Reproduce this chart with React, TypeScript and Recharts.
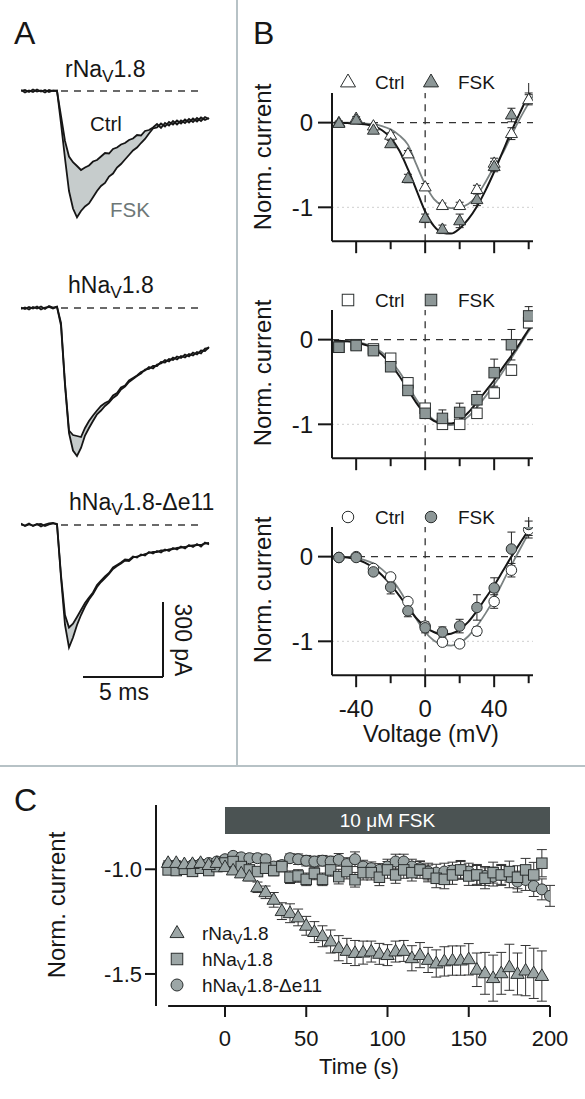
import React from 'react';
import {
  ComposedChart, Line, Area, Scatter, ErrorBar, XAxis, YAxis, ReferenceLine, ReferenceArea,
} from 'recharts';

const FONT = '"Liberation Sans", Arial, Helvetica, sans-serif';
const INK = '#161616';
const GRAY_FILL_B = '#8d9797';
const GRAY_FILL_C = '#9ca6a6';
const DIVIDER = '#b7c2c6';

// ---- panel A: example current traces (pA vs ms) ----
const traceTime = [0, 0.25, 0.5, 0.75, 1, 1.25, 1.5, 1.75, 2, 2.25, 2.5, 2.75, 3, 3.25, 3.5, 3.75, 4, 4.25, 4.5, 4.75, 5, 5.25, 5.5, 5.75, 6, 6.25, 6.5, 6.75, 7, 7.25, 7.5, 7.75, 8, 8.25, 8.5, 8.75, 9, 9.25, 9.5, 9.75, 10, 10.25, 10.5, 10.75, 11, 11.25, 11.5, 11.75];

const rTraceCtrl = [4, -6, 2, -4, 6, -2, 4, -4, 2, 0,
  -100, -200, -262, -285, -300, -316, -306, -298, -282, -276, -262, -248, -250, -232, -226, -214, -208, -196, -190, -176,
  -178, -160, -156, -146, -132, -148, -128, -138, -120, -134, -118, -128, -112, -124, -108, -120, -104, -112];
const rTraceFsk = [0, 4, -4, 6, -2, 2, -6, 4, 0, 2,
  -130, -270, -400, -470, -505, -480, -462, -450, -425, -400, -380, -368, -342, -330, -306, -292, -274, -256, -238, -226,
  -208, -192, -170, -150, -146, -130, -142, -124, -134, -118, -130, -114, -126, -110, -122, -106, -116, -108];

const hTraceCtrl = [-4, 2, -6, 4, -2, 6, -4, 8, 2, 6,
  -60, -300, -490, -508, -512, -516, -480, -452, -430, -410, -392, -380, -372, -350, -340, -318, -310, -290, -280, -270,
  -256, -250, -236, -242, -226, -222, -208, -214, -198, -206, -192, -198, -184, -190, -176, -182, -162, -160];
const hTraceFsk = [2, -4, 4, -2, 6, -6, 2, 4, -2, 4,
  -70, -310, -500, -570, -592, -560, -510, -480, -452, -425, -410, -392, -378, -360, -348, -326, -314, -296, -284, -272,
  -262, -246, -244, -232, -232, -216, -218, -204, -208, -194, -200, -186, -194, -178, -186, -170, -172, -156];

const dTraceCtrl = [6, -4, 2, -2, 4, -6, 2, 6, 8, 4,
  -200, -360, -410, -395, -368, -340, -312, -290, -270, -240, -222, -206, -192, -170, -160, -150, -138, -140, -126, -130,
  -118, -122, -108, -114, -104, -110, -98, -104, -92, -98, -86, -94, -80, -88, -76, -86, -70, -78];
const dTraceFsk = [2, -2, 6, -4, 2, 4, -4, 2, 6, 2,
  -210, -400, -490, -450, -400, -360, -326, -298, -276, -248, -228, -212, -196, -176, -164, -154, -142, -144, -130, -126,
  -122, -116, -112, -108, -108, -102, -102, -98, -96, -92, -90, -88, -84, -82, -80, -80, -74, -72];

const scaleBarMs = 5;
const scaleBarPa = 300;

// ---- panel B: I-V curves ----
const volt = [-50, -40, -30, -20, -10, 0, 10, 20, 30, 40, 50, 60];
const voltTicks = [-40, -20, 0, 20, 40, 60];
const fitVolt = [-53, -45, -40, -35, -30, -25, -20, -15, -10, -5, 0, 5, 10, 15, 20, 25, 30, 35, 40, 45, 50, 55, 60, 63];

const rIvCtrl = [0, 0.05, -0.04, -0.15, -0.37, -0.76, -0.98, -0.98, -0.79, -0.48, -0.13, 0.27];
const rIvCtrlErr = [0.02, 0.02, 0.02, 0.03, 0.04, 0.04, 0.03, 0.04, 0.05, 0.06, 0.07, 0.06];
const rIvFsk = [-0.01, 0.03, -0.09, -0.25, -0.66, -1.13, -1.26, -1.16, -0.91, -0.52, 0.09, 0.43];
const rIvFskErr = [0.02, 0.02, 0.03, 0.04, 0.05, 0.05, 0.05, 0.08, 0.07, 0.06, 0.08, 0.08];
const rFitCtrl = [0, 0, -0.003, -0.01, -0.02, -0.04, -0.08, -0.15, -0.26, -0.5, -0.73, -0.9, -0.98, -1.01, -1.0, -0.96, -0.86, -0.7, -0.52, -0.36, -0.15, 0.05, 0.23, 0.33];
const rFitFsk = [0, -0.005, -0.01, -0.02, -0.04, -0.09, -0.18, -0.33, -0.55, -0.8, -1.05, -1.22, -1.3, -1.31, -1.25, -1.14, -0.99, -0.8, -0.58, -0.34, -0.1, 0.12, 0.33, 0.43];

const hIvCtrl = [-0.09, -0.06, -0.11, -0.22, -0.51, -0.81, -1.0, -1.0, -0.87, -0.63, -0.36, 0.2];
const hIvCtrlErr = [0.02, 0.02, 0.03, 0.03, 0.04, 0.04, 0.04, 0.04, 0.05, 0.06, 0.06, 0.06];
const hIvFsk = [-0.09, -0.07, -0.13, -0.32, -0.6, -0.87, -0.93, -0.86, -0.71, -0.39, -0.06, 0.28];
const hIvFskErr = [0.02, 0.02, 0.03, 0.04, 0.05, 0.06, 0.1, 0.11, 0.1, 0.16, 0.18, 0.11];
const hFitCtrl = [-0.01, -0.02, -0.03, -0.05, -0.09, -0.15, -0.25, -0.38, -0.54, -0.71, -0.85, -0.95, -1.0, -1.01, -0.98, -0.91, -0.8, -0.67, -0.53, -0.38, -0.22, -0.06, 0.1, 0.18];
const hFitFsk = [-0.01, -0.02, -0.03, -0.06, -0.1, -0.18, -0.29, -0.43, -0.59, -0.75, -0.88, -0.96, -0.99, -0.99, -0.95, -0.86, -0.74, -0.61, -0.48, -0.33, -0.19, -0.04, 0.12, 0.2];

const dIvCtrl = [-0.01, 0, -0.14, -0.24, -0.53, -0.82, -1.01, -1.03, -0.88, -0.53, -0.16, 0.32];
const dIvCtrlErr = [0.02, 0.02, 0.03, 0.04, 0.04, 0.05, 0.04, 0.04, 0.05, 0.08, 0.08, 0.1];
const dIvFsk = [-0.01, -0.01, -0.18, -0.36, -0.64, -0.84, -0.89, -0.82, -0.6, -0.37, 0.09, 0.38];
const dIvFskErr = [0.03, 0.02, 0.04, 0.08, 0.07, 0.06, 0.06, 0.08, 0.15, 0.12, 0.2, 0.13];
const dFitCtrl = [0, -0.005, -0.015, -0.04, -0.08, -0.15, -0.25, -0.39, -0.56, -0.74, -0.89, -0.99, -1.04, -1.05, -1.02, -0.94, -0.82, -0.67, -0.5, -0.3, -0.1, 0.09, 0.27, 0.35];
const dFitFsk = [0, -0.01, -0.03, -0.07, -0.13, -0.22, -0.33, -0.46, -0.6, -0.73, -0.83, -0.89, -0.92, -0.91, -0.86, -0.77, -0.64, -0.49, -0.34, -0.17, 0, 0.16, 0.31, 0.38];

// ---- panel C: time course ----
const timeC = [-35, -30, -25, -20, -15, -10, -5, 0, 5, 10, 15, 20, 25, 30, 35, 40, 45, 50, 55, 60, 65, 70, 75, 80, 85, 90, 95, 100, 105, 110, 115, 120, 125, 130, 135, 140, 145, 150, 155, 160, 165, 170, 175, 180, 185, 190, 195];
const timeCd = [-35, -30, -25, -20, -15, -10, -5, 0, 5, 10, 15, 20, 25, 30, 35, 40, 45, 50, 55, 60, 65, 70, 75, 80, 85, 90, 95, 100, 105, 110, 115, 120, 125, 130, 135, 140, 145, 150, 155, 160, 165, 170, 175, 180, 185, 190, 195, 200];
const timeTicks = [0, 50, 100, 150, 200];

const rCourse = [-0.97, -0.97, -0.976, -0.975, -0.97, -0.98, -0.97, -0.99, -1.006, -1.02, -1.035, -1.086, -1.11, -1.146, -1.2, -1.21, -1.23, -1.27, -1.3, -1.32, -1.345, -1.377, -1.39, -1.4, -1.398, -1.393, -1.404, -1.41, -1.393, -1.39, -1.425, -1.41, -1.433, -1.45, -1.44, -1.436, -1.436, -1.43, -1.48, -1.497, -1.52, -1.497, -1.468, -1.5, -1.484, -1.497, -1.51];
const rCourseErr = [0.01, 0.01, 0.01, 0.01, 0.01, 0.01, 0.01, 0.01, 0.01, 0.015, 0.02, 0.025, 0.03, 0.035, 0.04, 0.045, 0.04, 0.045, 0.05, 0.05, 0.055, 0.06, 0.06, 0.06, 0.055, 0.05, 0.05, 0.05, 0.05, 0.05, 0.06, 0.06, 0.06, 0.065, 0.07, 0.07, 0.07, 0.075, 0.08, 0.1, 0.11, 0.1, 0.11, 0.1, 0.12, 0.12, 0.12];
const hCourse = [-1.003, -1.006, -1.0, -1.01, -0.995, -1.006, -0.987, -0.97, -0.963, -0.987, -1.003, -1.011, -0.995, -1.006, -0.987, -1.038, -1.032, -1.048, -1.02, -1.048, -1.003, -1.035, -1.011, -1.05, -1.016, -1.016, -1.038, -1.003, -1.027, -1.003, -1.016, -1.003, -1.02, -1.043, -1.048, -1.027, -1.003, -1.032, -1.027, -1.043, -1.016, -1.027, -1.011, -1.038, -1.003, -1.027, -0.971];
const hCourseErr = [0.01, 0.01, 0.01, 0.01, 0.01, 0.01, 0.01, 0.015, 0.015, 0.02, 0.02, 0.02, 0.02, 0.025, 0.025, 0.03, 0.03, 0.03, 0.03, 0.03, 0.03, 0.035, 0.035, 0.035, 0.035, 0.035, 0.04, 0.04, 0.04, 0.04, 0.04, 0.04, 0.04, 0.045, 0.045, 0.045, 0.045, 0.045, 0.05, 0.05, 0.05, 0.05, 0.05, 0.055, 0.055, 0.06, 0.065];
const dCourse = [-0.98, -0.98, -0.987, -0.98, -0.975, -0.97, -0.963, -0.952, -0.936, -0.943, -0.947, -0.947, -0.952, -0.987, -0.98, -0.947, -0.952, -0.959, -0.963, -0.959, -0.963, -0.955, -0.975, -0.952, -0.987, -0.995, -1.003, -0.987, -0.963, -0.963, -0.987, -0.995, -1.011, -1.016, -1.011, -1.006, -1.003, -1.011, -1.027, -1.032, -1.035, -1.027, -1.038, -1.059, -1.051, -1.08, -1.096, -1.127];
const dCourseErr = [0.01, 0.01, 0.01, 0.01, 0.01, 0.01, 0.01, 0.015, 0.015, 0.015, 0.02, 0.02, 0.02, 0.02, 0.02, 0.02, 0.025, 0.025, 0.025, 0.025, 0.025, 0.03, 0.03, 0.035, 0.03, 0.03, 0.03, 0.035, 0.035, 0.035, 0.035, 0.035, 0.04, 0.04, 0.04, 0.04, 0.04, 0.04, 0.045, 0.045, 0.045, 0.045, 0.05, 0.05, 0.05, 0.05, 0.05, 0.05];

type Kind = 'triangle' | 'square' | 'circle';

function Marker({ cx, cy, kind, fill, size }: { cx?: number; cy?: number; kind: Kind; fill: string; size: number }) {
  if (cx == null || cy == null) return null;
  const s = size;
  if (kind === 'triangle') {
    const h = s * 0.86;
    const pts = `${cx},${cy - h * 0.62} ${cx - s / 2},${cy + h * 0.38} ${cx + s / 2},${cy + h * 0.38}`;
    return <polygon points={pts} fill={fill} stroke="#2b2f2f" strokeWidth={1} />;
  }
  if (kind === 'square') {
    return <rect x={cx - s / 2} y={cy - s / 2} width={s} height={s} fill={fill} stroke="#2b2f2f" strokeWidth={1} />;
  }
  return <circle cx={cx} cy={cy} r={s / 2} fill={fill} stroke="#2b2f2f" strokeWidth={1} />;
}

function LegendMark({ x, y, kind, fill, size }: { x: number; y: number; kind: Kind; fill: string; size: number }) {
  return (
    <svg width={24} height={24} style={{ position: 'absolute', left: x - 12, top: y - 12 }}>
      <Marker cx={12} cy={12} kind={kind} fill={fill} size={size} />
    </svg>
  );
}

const Sub = ({ t }: { t: string }) => (
  <span style={{ fontSize: '0.75em', position: 'relative', top: '0.3em' }}>{t}</span>
);

function Txt({ x, y, size, color = INK, center = false, rotate = 0, children }: any) {
  const tx = center || rotate ? '-50%' : '0';
  return (
    <div style={{
      position: 'absolute', left: x, top: y, fontSize: size, color, lineHeight: 1, whiteSpace: 'nowrap',
      transform: `translate(${tx}, -50%)${rotate ? ` rotate(${rotate}deg)` : ''}`,
    }}>{children}</div>
  );
}

function TraceChart({ top, ctrl, fsk, children }: { top: number; ctrl: number[]; fsk: number[]; children?: React.ReactNode }) {
  const rows = traceTime.map((t, k) => ({ t, ctrl: ctrl[k], fsk: fsk[k] }));
  return (
    <div style={{ position: 'absolute', left: 21, top }}>
      <ComposedChart width={192} height={190} data={rows} margin={{ top: 0, right: 0, bottom: 0, left: 0 }}>
        <XAxis type="number" dataKey="t" domain={[0, 12]} hide allowDataOverflow />
        <YAxis type="number" domain={[-716, 44]} hide allowDataOverflow />
        <Area dataKey={(r: any) => [r.fsk, r.ctrl]} type="linear" fill="#c6cccc" fillOpacity={1} stroke="none" isAnimationActive={false} />
        <ReferenceLine segment={[{ x: 2.5, y: 0 }, { x: 11.4, y: 0 }]} stroke="#3a3a3a" strokeDasharray="7 6" strokeWidth={1.3} />
        <Line dataKey="fsk" type="linear" stroke={INK} strokeWidth={1.8} dot={false} isAnimationActive={false} />
        <Line dataKey="ctrl" type="linear" stroke={INK} strokeWidth={1.8} dot={false} isAnimationActive={false} />
        {children}
      </ComposedChart>
    </div>
  );
}

function voltTick(showLabel: boolean) {
  return (p: any) => {
    const major = p.payload.value % 40 === 0;
    return (
      <g>
        <line x1={p.x} x2={p.x} y1={p.y} y2={p.y + (major ? 12 : 8)} stroke={INK} strokeWidth={2} />
        {showLabel && major ? (
          <text x={p.x} y={p.y + 33} textAnchor="middle" dominantBaseline="central" fontSize={24} fill={INK}>{p.payload.value}</text>
        ) : null}
      </g>
    );
  };
}

function timeTick(p: any) {
  return (
    <g>
      <line x1={p.x} x2={p.x} y1={p.y} y2={p.y + 11} stroke={INK} strokeWidth={2} />
      <text x={p.x} y={p.y + 32} textAnchor="middle" dominantBaseline="central" fontSize={22} fill={INK}>{p.payload.value}</text>
    </g>
  );
}

function IvPanel({ top, kind, ctrl, ctrlErr, fsk, fskErr, fitCtrl, fitFsk, showLabels }: any) {
  const ctrlRows = volt.map((v, k) => ({ v, i: ctrl[k], e: ctrlErr[k] }));
  const fskRows = volt.map((v, k) => ({ v, i: fsk[k], e: fskErr[k] }));
  const ctrlFitRows = fitVolt.map((v, k) => ({ v, i: fitCtrl[k] }));
  const fskFitRows = fitVolt.map((v, k) => ({ v, i: fitFsk[k] }));
  const xh = showLabels ? 50 : 30;
  const size = kind === 'triangle' ? 12 : 10.5;
  return (
    <div style={{ position: 'absolute', left: 236, top }}>
      <ComposedChart width={349} height={10 + 148.2 + xh} margin={{ top: 10, right: 52, bottom: 0, left: 0 }}>
        <XAxis type="number" dataKey="v" domain={[-54, 62.5]} allowDataOverflow ticks={voltTicks} interval={0}
          tickSize={0} tickMargin={0} tickLine={false} height={xh}
          axisLine={{ stroke: INK, strokeWidth: 2 }} tick={voltTick(showLabels)} />
        <YAxis type="number" domain={[-1.4, 0.35]} allowDataOverflow ticks={[-1, 0]} interval={0} width={96}
          tickSize={14} tickMargin={5} axisLine={{ stroke: INK, strokeWidth: 2 }}
          tickLine={{ stroke: INK, strokeWidth: 2 }} tick={{ fill: INK, fontSize: 24 }} />
        <ReferenceLine y={-1} stroke="#cfcfcf" strokeDasharray="2 3" />
        <ReferenceLine y={0} stroke="#333" strokeDasharray="7 6" strokeWidth={1.3} />
        <ReferenceLine x={0} stroke="#333" strokeDasharray="7 6" strokeWidth={1.3} />
        <Line data={ctrlFitRows} dataKey="i" type="monotone" stroke="#7b8282" strokeWidth={1.8} dot={false} isAnimationActive={false} />
        <Line data={fskFitRows} dataKey="i" type="monotone" stroke={INK} strokeWidth={2} dot={false} isAnimationActive={false} />
        <Scatter data={ctrlRows} dataKey="i" isAnimationActive={false}
          shape={(p: any) => <Marker cx={p.cx} cy={p.cy} kind={kind} fill="#fff" size={size} />}>
          <ErrorBar dataKey="e" direction="y" width={4} stroke="#222" strokeWidth={1} />
        </Scatter>
        <Scatter data={fskRows} dataKey="i" isAnimationActive={false}
          shape={(p: any) => <Marker cx={p.cx} cy={p.cy} kind={kind} fill={GRAY_FILL_B} size={size} />}>
          <ErrorBar dataKey="e" direction="y" width={4} stroke="#222" strokeWidth={1} />
        </Scatter>
      </ComposedChart>
    </div>
  );
}

function IvLegend({ y, kind }: { y: number; kind: Kind }) {
  const s = kind === 'triangle' ? 15 : 11.5;
  return (
    <>
      <LegendMark x={348} y={y} kind={kind} fill="#fff" size={s} />
      <Txt x={375} y={y} size={19}>Ctrl</Txt>
      <LegendMark x={431} y={y} kind={kind} fill={GRAY_FILL_B} size={s} />
      <Txt x={458} y={y} size={19}>FSK</Txt>
    </>
  );
}

function CoursePanel() {
  const rRows = timeC.map((t, k) => ({ t, v: rCourse[k], e: rCourseErr[k] }));
  const hRows = timeC.map((t, k) => ({ t, v: hCourse[k], e: hCourseErr[k] }));
  const dRows = timeCd.map((t, k) => ({ t, v: dCourse[k], e: dCourseErr[k] }));
  const yMin = -1.653;
  return (
    <div style={{ position: 'absolute', left: 0, top: 780 }}>
      <ComposedChart width={585} height={319} margin={{ top: 25, right: 35, bottom: 33, left: 0 }}>
        <XAxis type="number" dataKey="t" domain={[-42.46, 200]} allowDataOverflow ticks={timeTicks} interval={0}
          axisLine={false} tickLine={false} tickSize={0} tickMargin={0} height={60} tick={timeTick} />
        <YAxis type="number" domain={[yMin, -0.693]} allowDataOverflow ticks={[-1.5, -1]} interval={0}
          tickFormatter={(v: number) => v.toFixed(1)} width={156} tickSize={11} tickMargin={3}
          axisLine={{ stroke: INK, strokeWidth: 2 }} tickLine={{ stroke: INK, strokeWidth: 2 }}
          tick={{ fill: INK, fontSize: 22 }} />
        <ReferenceLine segment={[{ x: -35, y: yMin }, { x: 200, y: yMin }]} stroke={INK} strokeWidth={2} ifOverflow="visible" />
        <ReferenceArea x1={0} x2={200} y1={-0.832} y2={-0.703} fill="#4b5353" fillOpacity={1} stroke="none"
          label={{ value: '10 μM FSK', position: 'center', fill: '#ffffff', fontSize: 19 }} />
        <Scatter data={dRows} dataKey="v" isAnimationActive={false}
          shape={(p: any) => <Marker cx={p.cx} cy={p.cy} kind="circle" fill={GRAY_FILL_C} size={11} />}>
          <ErrorBar dataKey="e" direction="y" width={5} stroke="#333" strokeWidth={1} />
        </Scatter>
        <Scatter data={hRows} dataKey="v" isAnimationActive={false}
          shape={(p: any) => <Marker cx={p.cx} cy={p.cy} kind="square" fill={GRAY_FILL_C} size={10.5} />}>
          <ErrorBar dataKey="e" direction="y" width={5} stroke="#333" strokeWidth={1} />
        </Scatter>
        <Scatter data={rRows} dataKey="v" isAnimationActive={false}
          shape={(p: any) => <Marker cx={p.cx} cy={p.cy} kind="triangle" fill={GRAY_FILL_C} size={13.5} />}>
          <ErrorBar dataKey="e" direction="y" width={5} stroke="#333" strokeWidth={1} />
        </Scatter>
      </ComposedChart>
    </div>
  );
}

export default function App() {
  return (
    <div style={{ position: 'absolute', left: 0, top: 0, width: 585, height: 1099, background: '#fff', overflow: 'hidden', fontFamily: FONT, color: INK }}>
      {/* dividers */}
      <div style={{ position: 'absolute', left: 236, top: 0, width: 2, height: 766, background: DIVIDER }} />
      <div style={{ position: 'absolute', left: 0, top: 765, width: 585, height: 2, background: DIVIDER }} />

      {/* panel letters */}
      <Txt x={14} y={33} size={32}>A</Txt>
      <Txt x={253} y={33} size={32}>B</Txt>
      <Txt x={14} y={800} size={32}>C</Txt>

      {/* panel A */}
      <TraceChart top={80} ctrl={rTraceCtrl} fsk={rTraceFsk} />
      <TraceChart top={297} ctrl={hTraceCtrl} fsk={hTraceFsk} />
      <TraceChart top={514} ctrl={dTraceCtrl} fsk={dTraceFsk}>
        <ReferenceLine segment={[{ x: 8.875, y: -308 }, { x: 8.875, y: -308 - scaleBarPa }]} stroke={INK} strokeWidth={2} ifOverflow="visible" />
        <ReferenceLine segment={[{ x: 8.875 - scaleBarMs, y: -308 - scaleBarPa }, { x: 8.875, y: -308 - scaleBarPa }]} stroke={INK} strokeWidth={2} ifOverflow="visible" />
      </TraceChart>
      <Txt x={65} y={69} size={23}>rNa<Sub t="V" />1.8</Txt>
      <Txt x={90} y={124} size={20.5}>Ctrl</Txt>
      <Txt x={110} y={210} size={20.5} color="#6d7777">FSK</Txt>
      <Txt x={68} y={285} size={23}>hNa<Sub t="V" />1.8</Txt>
      <Txt x={69} y={502} size={23}>hNa<Sub t="V" />1.8-Δe11</Txt>
      <Txt x={124} y={692} size={23} center>5 ms</Txt>
      <Txt x={182} y={640} size={23} rotate={90}>300 pA</Txt>

      {/* panel B */}
      <IvPanel top={83.1} kind="triangle" ctrl={rIvCtrl} ctrlErr={rIvCtrlErr} fsk={rIvFsk} fskErr={rIvFskErr} fitCtrl={rFitCtrl} fitFsk={rFitFsk} showLabels={false} />
      <IvPanel top={300.4} kind="square" ctrl={hIvCtrl} ctrlErr={hIvCtrlErr} fsk={hIvFsk} fskErr={hIvFskErr} fitCtrl={hFitCtrl} fitFsk={hFitFsk} showLabels={false} />
      <IvPanel top={517.1} kind="circle" ctrl={dIvCtrl} ctrlErr={dIvCtrlErr} fsk={dIvFsk} fskErr={dIvFskErr} fitCtrl={dFitCtrl} fitFsk={dFitFsk} showLabels />
      <IvLegend y={82} kind="triangle" />
      <IvLegend y={300} kind="square" />
      <IvLegend y={517} kind="circle" />
      <Txt x={263} y={157} size={24} rotate={-90}>Norm. current</Txt>
      <Txt x={263} y={373} size={24} rotate={-90}>Norm. current</Txt>
      <Txt x={263} y={590} size={24} rotate={-90}>Norm. current</Txt>
      <Txt x={431} y={735} size={23.5} center>Voltage (mV)</Txt>

      {/* panel C */}
      <CoursePanel />
      <Txt x={57} y={905} size={24} rotate={-90}>Norm. current</Txt>
      <Txt x={359} y={1067} size={22} center>Time (s)</Txt>
      <LegendMark x={177} y={933} kind="triangle" fill={GRAY_FILL_C} size={14} />
      <LegendMark x={177} y={959} kind="square" fill={GRAY_FILL_C} size={11.5} />
      <LegendMark x={177} y={985} kind="circle" fill={GRAY_FILL_C} size={12} />
      <Txt x={202} y={933} size={19}>rNa<Sub t="V" />1.8</Txt>
      <Txt x={202} y={959} size={19}>hNa<Sub t="V" />1.8</Txt>
      <Txt x={202} y={985} size={19}>hNa<Sub t="V" />1.8-Δe11</Txt>
    </div>
  );
}
